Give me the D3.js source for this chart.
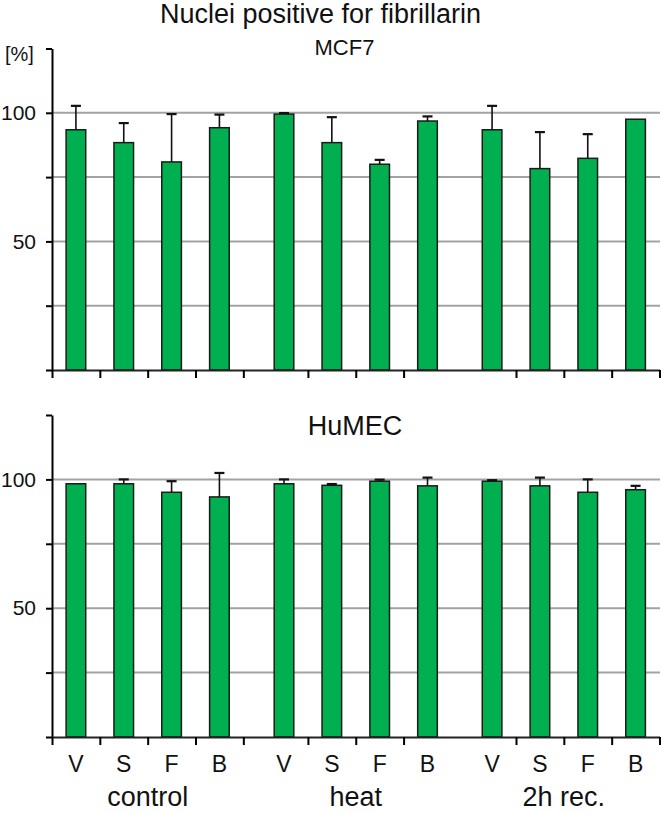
<!DOCTYPE html>
<html>
<head>
<meta charset="utf-8">
<script src="https://cdn.jsdelivr.net/npm/d3@7"></script>
<style>
  body { margin: 0; background: #fff; }
  svg { display: block; font-family: "Liberation Sans", Arial, sans-serif; }
</style>
</head>
<body>
<div id="chart"></div>
<script>
// ************************** data **************************
const groups = ["control", "heat", "2h rec."];
const treatments = ["V", "S", "F", "B"];

// MCF7 (top panel), % nuclei positive, with SD
const mcf7Values = [93.4, 88.4, 80.9, 94.2, 99.5, 88.4, 80.0, 96.8, 93.4, 78.3, 82.3, 97.5];
const mcf7Errors = [9.3, 7.6, 18.6, 5.1, 0.4, 9.9, 1.7, 1.8, 9.3, 14.2, 9.4, 0];

// HuMEC (bottom panel)
const humecValues = [98.3, 98.3, 95.0, 93.2, 98.3, 97.7, 99.3, 97.5, 99.3, 97.5, 95.0, 96.0];
const humecErrors = [0, 1.7, 4.3, 9.3, 1.7, 0.5, 0.6, 3.2, 0.4, 3.2, 5.0, 1.5];

const yTicks = [0, 25, 50, 75, 100, 125];
const yLabelled = [50, 100];
const gridValues = [25, 50, 75, 100];

// slot units: bar i of group g sits at g * groupStep + i
const groupStep = 4.35;
// x tick marks, in slot units (as drawn in the figure)
const xTickSlots = [-0.5, 0.5, 1.5, 2.5, 3.5, 4.85, 5.85, 6.85, 9.2, 10.2, 11.2, 12.2];

const rows = [];
groups.forEach((g, gi) => {
  treatments.forEach((t, ti) => {
    rows.push({ group: g, treatment: t, slot: gi * groupStep + ti });
  });
});

// ************************** layout **************************
const width = 661;
const height = 813;
const green = "#00b050";

const xScale = d3.scaleLinear().domain([-0.5, 12.2]).range([52, 659.5]);
const barHalf = 0.205; // half bar width in slot units

const svg = d3
  .create("svg")
  .attr("width", width)
  .attr("height", height);

function drawPanel(
  values,
  errors,
  {
    yTop, // pixel y of 125
    yBottom, // pixel y of 0
    showLabels = false,
  } = {}
) {
  const yScale = d3.scaleLinear().domain([0, 125]).range([yBottom, yTop]);
  const panel = svg.append("g");

  // gridlines
  panel
    .append("g")
    .selectAll("line")
    .data(gridValues)
    .join("line")
    .attr("x1", xScale(-0.5))
    .attr("x2", 660)
    .attr("y1", (d) => yScale(d))
    .attr("y2", (d) => yScale(d))
    .attr("stroke", "#a3a3a3")
    .attr("stroke-width", 2);

  // bars
  panel
    .append("g")
    .selectAll("rect")
    .data(rows)
    .join("rect")
    .attr("x", (d) => xScale(d.slot - barHalf))
    .attr("width", (d) => xScale(d.slot + barHalf) - xScale(d.slot - barHalf))
    .attr("y", (d, i) => yScale(values[i]))
    .attr("height", (d, i) => yScale(0) - yScale(values[i]))
    .attr("fill", green)
    .attr("stroke", "#1a1a1a")
    .attr("stroke-width", 1.5);

  // error bars (upper only)
  const err = panel
    .append("g")
    .attr("stroke", "#111")
    .selectAll("g")
    .data(rows.filter((d, i) => errors[i] > 0).map((d) => {
      const i = rows.indexOf(d);
      return { slot: d.slot, v: values[i], e: errors[i] };
    }))
    .join("g");

  err
    .append("line")
    .attr("x1", (d) => xScale(d.slot))
    .attr("x2", (d) => xScale(d.slot))
    .attr("y1", (d) => yScale(d.v))
    .attr("y2", (d) => yScale(d.v + d.e))
    .attr("stroke-width", 1.6);

  err
    .append("line")
    .attr("x1", (d) => xScale(d.slot) - 5)
    .attr("x2", (d) => xScale(d.slot) + 5)
    .attr("y1", (d) => yScale(d.v + d.e))
    .attr("y2", (d) => yScale(d.v + d.e))
    .attr("stroke-width", 2.2);

  // y axis
  const yAxis = d3
    .axisLeft(yScale)
    .tickValues(yTicks)
    .tickSizeInner(6)
    .tickSizeOuter(0)
    .tickPadding(10)
    .tickFormat((d) => (yLabelled.includes(d) ? d : ""));

  panel
    .append("g")
    .attr("transform", `translate(${xScale(-0.5)},0)`)
    .call(yAxis)
    .call((g) => g.select(".domain").attr("stroke", "#000").attr("stroke-width", 2))
    .call((g) => g.selectAll(".tick line").attr("stroke-width", 2))
    .call((g) =>
      g
        .selectAll(".tick text")
        .attr("font-size", 21)
        .attr("font-family", "Liberation Sans, Arial, sans-serif")
        .attr("fill", "#111")
    );

  // x axis
  const xAxis = d3
    .axisBottom(xScale)
    .tickValues(xTickSlots)
    .tickSizeInner(8)
    .tickSizeOuter(0)
    .tickFormat("");

  panel
    .append("g")
    .attr("transform", `translate(0,${yScale(0)})`)
    .call(xAxis)
    .call((g) => g.select(".domain").attr("stroke", "#222").attr("stroke-width", 2))
    .call((g) => g.selectAll(".tick line").attr("stroke-width", 2));

  if (showLabels) {
    panel
      .append("g")
      .selectAll("text")
      .data(rows)
      .join("text")
      .attr("x", (d) => xScale(d.slot))
      .attr("y", yBottom + 35)
      .attr("text-anchor", "middle")
      .attr("font-size", 23)
      .attr("fill", "#111")
      .text((d) => d.treatment);

    panel
      .append("g")
      .selectAll("text")
      .data(groups)
      .join("text")
      .attr("x", (d, gi) => xScale(gi * groupStep + 1.5))
      .attr("y", yBottom + 69)
      .attr("text-anchor", "middle")
      .attr("font-size", 27)
      .attr("fill", "#111")
      .text((d) => d);
  }

  return yScale;
}

drawPanel(mcf7Values, mcf7Errors, { yTop: 48.5, yBottom: 370 });
drawPanel(humecValues, humecErrors, { yTop: 415, yBottom: 737, showLabels: true });

// titles
svg
  .append("text")
  .attr("x", 320.5)
  .attr("y", 23)
  .attr("text-anchor", "middle")
  .attr("font-size", 27)
  .attr("fill", "#111")
  .text("Nuclei positive for fibrillarin");

svg
  .append("text")
  .attr("x", 344.5)
  .attr("y", 55)
  .attr("text-anchor", "middle")
  .attr("font-size", 22)
  .attr("fill", "#111")
  .text("MCF7");

svg
  .append("text")
  .attr("x", 355)
  .attr("y", 435)
  .attr("text-anchor", "middle")
  .attr("font-size", 27)
  .attr("fill", "#111")
  .text("HuMEC");

svg
  .append("text")
  .attr("x", 5)
  .attr("y", 61)
  .attr("font-size", 20)
  .attr("fill", "#111")
  .text("[%]");

d3.select("#chart").node().appendChild(svg.node());
</script>
</body>
</html>
